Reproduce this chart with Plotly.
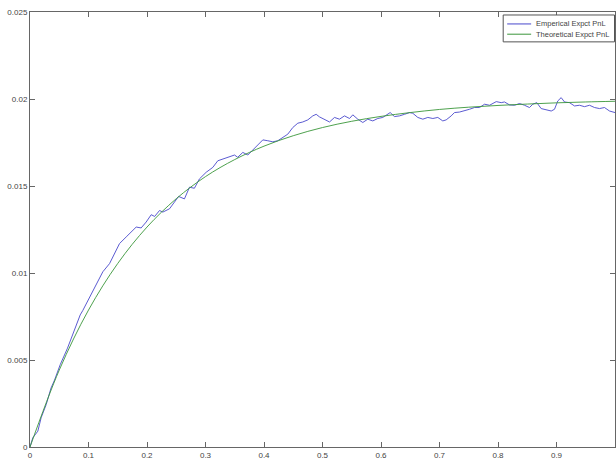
import plotly.graph_objects as go

# ---- data ----
emp_x = [0, 0.0048, 0.0134, 0.019, 0.0277, 0.036, 0.042, 0.0516, 0.0641, 0.0755,
         0.0817, 0.0858, 0.0903, 0.1017, 0.113, 0.1245, 0.136, 0.1444, 0.153, 0.1644,
         0.1757, 0.1815, 0.190, 0.1986, 0.2072, 0.2130, 0.2214, 0.227, 0.2385, 0.2540,
         0.264, 0.2726, 0.281, 0.2897, 0.3012, 0.3125, 0.321, 0.3296, 0.341, 0.3496,
         0.355, 0.3638, 0.3723, 0.381, 0.3894, 0.398, 0.4065, 0.415, 0.4236, 0.432,
         0.4407, 0.4492, 0.4578, 0.4663, 0.4749, 0.4834, 0.4892, 0.4949, 0.5034, 0.512,
         0.5205, 0.529, 0.5376, 0.5462, 0.5518, 0.5603, 0.5689, 0.5774, 0.586, 0.5945,
         0.603, 0.6116, 0.6157, 0.623, 0.6316, 0.6402, 0.6487, 0.6544, 0.6629, 0.6715,
         0.68, 0.6886, 0.6971, 0.7056, 0.7114, 0.72, 0.7256, 0.7342, 0.7427, 0.7513,
         0.7598, 0.7684, 0.777, 0.7855, 0.797, 0.8055, 0.8111, 0.8197, 0.8282, 0.8368,
         0.8453, 0.8538, 0.8595, 0.8663, 0.8738, 0.8824, 0.891, 0.8966, 0.9022, 0.908,
         0.9137, 0.9222, 0.9308, 0.9393, 0.9479, 0.9564, 0.965, 0.9735, 0.982, 0.9906,
         1.0]
emp_y = [0, 0.00053, 0.00091, 0.00168, 0.00244, 0.00339, 0.00385, 0.00473, 0.00568, 0.00664,
         0.0072, 0.00759, 0.00785, 0.00860, 0.0093, 0.01007, 0.01054, 0.01111, 0.01169, 0.01207,
         0.01245, 0.01264, 0.01259, 0.01293, 0.01335, 0.01325, 0.01359, 0.0135, 0.01369, 0.0144,
         0.01426, 0.01493, 0.01487, 0.01541, 0.01579, 0.01607, 0.01645, 0.01655, 0.0167, 0.01678,
         0.01665, 0.01693, 0.01678, 0.01708, 0.01741, 0.01765, 0.0176, 0.01754, 0.0176, 0.01779,
         0.01798, 0.01836, 0.01861, 0.01868, 0.0188, 0.01903, 0.01912, 0.01897, 0.01884, 0.01868,
         0.01894, 0.01884, 0.01903, 0.01888, 0.01909, 0.01884, 0.01865, 0.01884, 0.01874, 0.01888,
         0.01894, 0.01912, 0.01922, 0.01899, 0.01903, 0.01912, 0.01922, 0.01918, 0.01894, 0.01884,
         0.01894, 0.01888, 0.01894, 0.01874, 0.0188, 0.01903, 0.01922, 0.01925, 0.01931, 0.01941,
         0.01951, 0.01951, 0.0197, 0.01964, 0.01985, 0.01979, 0.01983, 0.01966, 0.01964, 0.01974,
         0.01964, 0.01951, 0.0197, 0.01979, 0.01945, 0.01937, 0.01931, 0.01941, 0.01989, 0.02008,
         0.01983, 0.01979, 0.0196, 0.01964, 0.01956, 0.01964, 0.01951, 0.01945, 0.01951, 0.01931,
         0.01922]

theo_x = [0, 0.05, 0.1, 0.15, 0.2, 0.25, 0.3, 0.35, 0.4, 0.45, 0.5,
          0.55, 0.6, 0.65, 0.7, 0.75, 0.8, 0.85, 0.9, 0.95, 1.0]
theo_y = [0, 0.00442, 0.00787, 0.01055, 0.01264, 0.01427, 0.01554, 0.01652, 0.01729,
          0.01789, 0.01836, 0.01872, 0.01900, 0.01922, 0.01940, 0.01953, 0.01963,
          0.01971, 0.01978, 0.01983, 0.01987]

series_names = ["Emperical Expct PnL", "Theoretical Expct PnL"]
x_ticks = [0, 0.1, 0.2, 0.3, 0.4, 0.5, 0.6, 0.7, 0.8, 0.9, 1]
y_ticks = [0, 0.005, 0.01, 0.015, 0.02, 0.025]

# ---- styling ----
BLUE = "#4848cc"
GREEN = "#3a963a"
AXIS = "#666666"
TXT = "#444444"
W, H = 616, 460
ML, MR, MT, MB = 30, 0, 12, 11
PW, PH = W - ML - MR, H - MT - MB

fig = go.Figure()
fig.add_trace(go.Scatter(x=emp_x, y=emp_y, mode="lines", name=series_names[0],
                         line=dict(color=BLUE, width=0.9), showlegend=False))
fig.add_trace(go.Scatter(x=theo_x, y=theo_y, mode="lines", name=series_names[1],
                         line=dict(color=GREEN, width=0.9, shape="spline", smoothing=1.0),
                         showlegend=False))

axis_common = dict(showgrid=False, zeroline=False, showline=True, linecolor=AXIS,
                   linewidth=1, mirror="ticks", ticks="inside", ticklen=5,
                   tickcolor=AXIS, tickwidth=1,
                   tickfont=dict(family="Liberation Sans, Arial, sans-serif", size=8, color=TXT))
fig.update_xaxes(range=[0, 1], tickvals=x_ticks, ticktext=[str(t) for t in x_ticks], **axis_common)
fig.update_yaxes(range=[0, 0.025], tickvals=y_ticks, ticktext=[str(t) for t in y_ticks], **axis_common)

# custom compact legend (MATLAB-style)
def px2paper_x(px):
    return (px - ML) / PW

def px2paper_y(py):
    return (H - MB - py) / PH

shapes = [dict(type="rect", xref="paper", yref="paper",
               x0=px2paper_x(504), x1=px2paper_x(615.5),
               y0=px2paper_y(42), y1=px2paper_y(15),
               line=dict(color="#555555", width=1), fillcolor="white", layer="above")]
annotations = []
for i, (name, col) in enumerate(zip(series_names, [BLUE, GREEN])):
    py = 24 + i * 10.3
    shapes.append(dict(type="line", xref="paper", yref="paper",
                       x0=px2paper_x(508), x1=px2paper_x(532),
                       y0=px2paper_y(py), y1=px2paper_y(py),
                       line=dict(color=col, width=1), layer="above"))
    annotations.append(dict(xref="paper", yref="paper", x=px2paper_x(534.5), y=px2paper_y(py),
                            xanchor="left", yanchor="middle", text=name, showarrow=False,
                            font=dict(family="Liberation Sans, Arial, sans-serif", size=7.5, color=TXT)))

fig.update_layout(width=W, height=H, margin=dict(l=ML, r=MR, t=MT, b=MB),
                  paper_bgcolor="white", plot_bgcolor="white",
                  shapes=shapes, annotations=annotations, showlegend=False)

fig.write_html("out.html")
